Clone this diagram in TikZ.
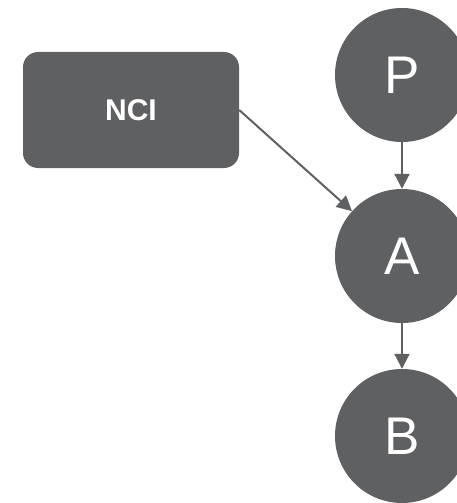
\documentclass[tikz,border=0pt]{standalone}
\usepackage{fontspec}
\setmainfont{Liberation Sans}
\usetikzlibrary{arrows.meta}
\definecolor{nodegray}{RGB}{95,96,98}
\begin{document}
\begin{tikzpicture}[x=1pt,y=-1pt,
  stateball/.style={circle,fill=nodegray,draw=none,minimum size=134pt,inner sep=0pt,
    text=white,font=\fontsize{53}{53}\selectfont},
  sourcebox/.style={rounded corners=15pt,fill=nodegray,draw=none,minimum width=216pt,
    minimum height=116pt,text=white,font=\fontsize{30}{30}\selectfont\bfseries},
  link/.style={draw=nodegray,line width=2pt,-{Triangle[length=15pt,width=15pt]}}]
  \useasboundingbox (0,0) rectangle (457,503);
  \node[stateball] (P) at (402,75) {P};
  \node[stateball] (A) at (402,256) {A};
  \node[stateball] (B) at (402,436) {B};
  \node[sourcebox] (N) at (131,110) {NCI};
  \draw[link] (P) -- (A);
  \draw[link] (A) -- (B);
  \draw[link] (N.east) -- (A);
\end{tikzpicture}
\end{document}
